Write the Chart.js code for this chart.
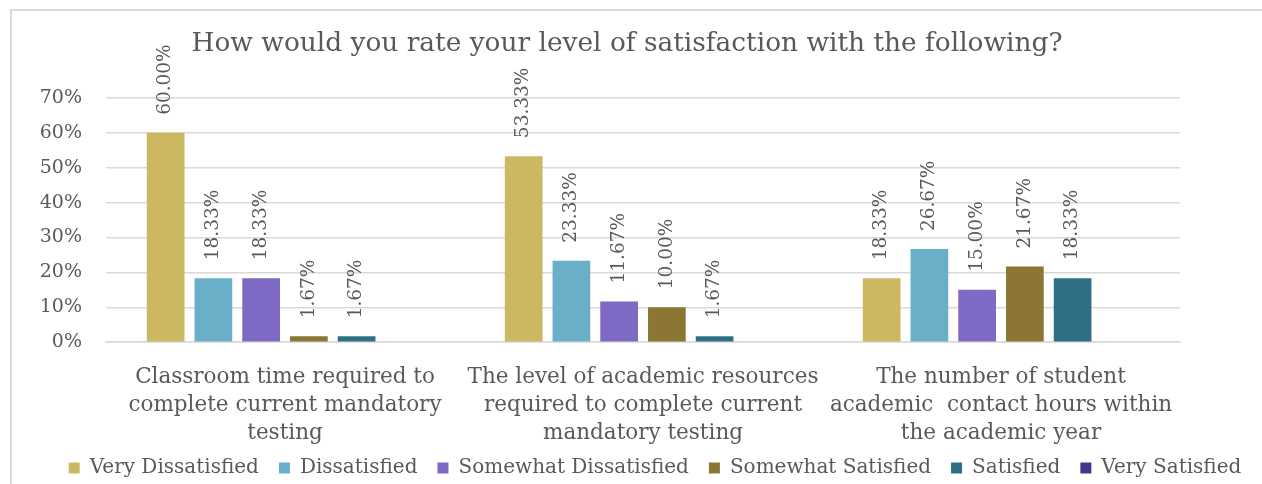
<!DOCTYPE html>
<html>
<head>
<meta charset="utf-8">
<script src="https://cdn.jsdelivr.net/npm/chart.js@4/dist/chart.umd.min.js"></script>
<style>
  html, body { margin: 0; padding: 0; background: #ffffff; overflow: hidden; }
  #frame { position: absolute; left: 10px; top: 9px; width: 1400px; height: 600px; border: 2px solid #d9d9d9; box-sizing: border-box; }
  #wrap { position: absolute; left: 0; top: 0; width: 1262px; height: 484px; }
</style>
</head>
<body>
<div id="frame"></div>
<div id="wrap"><canvas id="c" width="1262" height="484"></canvas></div>
<script>
const titleText = "How would you rate your level of satisfaction with the following?";
const categories = [
  ["Classroom time required to", "complete current mandatory", "testing"],
  ["The level of academic resources", "required to complete current", "mandatory testing"],
  ["The number of student", "academic  contact hours within", "the academic year"]
];
const seriesNames = ["Very Dissatisfied", "Dissatisfied", "Somewhat Dissatisfied", "Somewhat Satisfied", "Satisfied", "Very Satisfied"];
const veryDissatisfied = [60.00, 53.33, 18.33];
const dissatisfied = [18.33, 23.33, 26.67];
const somewhatDissatisfied = [18.33, 11.67, 15.00];
const somewhatSatisfied = [1.67, 10.00, 21.67];
const satisfied = [1.67, 1.67, 18.33];
const verySatisfied = [0, 0, 0];
const yTicks = [0, 10, 20, 30, 40, 50, 60, 70];

const seriesValues = [veryDissatisfied, dissatisfied, somewhatDissatisfied, somewhatSatisfied, satisfied, verySatisfied];
const colors = ["#CDB862", "#6AAFC8", "#7E69C4", "#8B7733", "#2F6F86", "#46348A"];
const FONT = "'DejaVu Serif', serif";
const TXT = "#595959";

const valueLabels = {
  id: 'valueLabels',
  afterLayout(chart) {
    // centre title and legend as in the reference, and pull the legend up
    const shift = (box, cx, dy) => {
      if (!box) return;
      const d = cx - (box.left + box.right) / 2;
      box.left += d; box.right += d;
      box.top += dy; box.bottom += dy;
    };
    shift(chart.titleBlock, 627, 0);
    shift(chart.legend, 655, -22);
  },
  afterDatasetsDraw(chart) {
    const ctx = chart.ctx;
    ctx.save();
    ctx.fillStyle = TXT;
    ctx.font = "18.5px " + FONT;
    ctx.textAlign = 'left';
    ctx.textBaseline = 'middle';
    chart.data.datasets.forEach((ds, i) => {
      const meta = chart.getDatasetMeta(i);
      meta.data.forEach((bar, j) => {
        const v = ds.data[j];
        if (!v) return;
        ctx.save();
        ctx.translate(bar.x, bar.y - 18);
        ctx.rotate(-Math.PI / 2);
        ctx.fillText(v.toFixed(2) + '%', 0, 0);
        ctx.restore();
      });
    });
    ctx.restore();
  }
};

new Chart(document.getElementById('c'), {
  type: 'bar',
  data: {
    labels: categories,
    datasets: seriesNames.map((n, i) => ({
      label: n,
      data: seriesValues[i],
      backgroundColor: colors[i],
      borderWidth: 0,
      categoryPercentage: 0.8,
      barPercentage: 0.79
    }))
  },
  options: {
    responsive: false,
    animation: false,
    devicePixelRatio: 1,
    layout: { padding: { left: 10, right: 0, top: 0, bottom: -26 } },
    plugins: {
      title: {
        display: true,
        text: titleText,
        color: TXT,
        font: { family: FONT, size: 26.4, weight: 'normal', lineHeight: 1.2 },
        padding: { top: 28, bottom: 38.3 }
      },
      legend: {
        position: 'bottom',
        labels: {
          color: TXT,
          font: { family: FONT, size: 20 },
          boxWidth: 11,
          boxHeight: 11,
          padding: 20
        }
      },
      tooltip: { enabled: false }
    },
    scales: {
      x: {
        grid: { display: false },
        border: { display: true, color: '#d9d9d9', width: 1.5 },
        ticks: { color: TXT, font: { family: FONT, size: 21.5, lineHeight: 1.3 }, padding: 13, maxRotation: 0, autoSkip: false }
      },
      y: {
        min: 0, max: 70,
        afterBuildTicks(scale) { scale.ticks = yTicks.map(v => ({ value: v })); },
        afterFit(scale) { scale.width = 96; },
        grid: { color: '#d9d9d9', lineWidth: 1.5, drawTicks: false },
        border: { display: false },
        ticks: { color: TXT, font: { family: FONT, size: 19 }, padding: 24, callback: v => v + '%' }
      },
      yRight: {
        position: 'right',
        display: true,
        afterFit(scale) { scale.width = 82; },
        grid: { display: false },
        border: { display: false },
        ticks: { display: false }
      }
    }
  },
  plugins: [valueLabels]
});
</script>
</body>
</html>
